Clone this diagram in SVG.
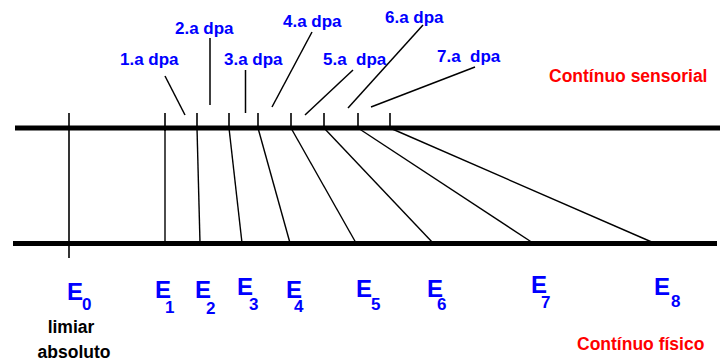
<svg xmlns="http://www.w3.org/2000/svg" width="722" height="364" viewBox="0 0 722 364">
<style>
.axis{stroke:#000;stroke-width:5;fill:none}
.tick{stroke:#000;stroke-width:1.6;fill:none}
.map{stroke:#000;stroke-width:1.4;fill:none}
.ptr{stroke:#000;stroke-width:1.5;fill:none}
.dpa{font-family:"Liberation Sans",Arial,sans-serif;font-weight:bold;font-size:17px;fill:#0000ff;white-space:pre}
.E{font-family:"Liberation Sans",Arial,sans-serif;font-weight:bold;font-size:24px;fill:#0000ff}
.sub{font-size:17px}
.red{font-family:"Liberation Sans",Arial,sans-serif;font-weight:bold;font-size:17.5px;fill:#ff0000}
.blk{font-family:"Liberation Sans",Arial,sans-serif;font-weight:bold;font-size:17.5px;fill:#000;text-anchor:middle}
</style>
<rect width="722" height="364" fill="#fff"/>
<g id="axes">
<line class="axis" x1="15" y1="128" x2="720" y2="128"/>
<line class="axis" x1="13" y1="243.5" x2="717" y2="243.5"/>
</g>
<g id="connectors">
<line class="tick" x1="69" y1="113" x2="69" y2="258"/>
<line class="tick" x1="165" y1="113" x2="165" y2="131"/>
<line class="tick" x1="197" y1="113" x2="197" y2="129"/>
<line class="tick" x1="229" y1="113" x2="229" y2="129"/>
<line class="tick" x1="258" y1="113" x2="258" y2="129"/>
<line class="tick" x1="291" y1="113" x2="291" y2="129"/>
<line class="tick" x1="324" y1="113" x2="324" y2="129"/>
<line class="tick" x1="358" y1="113" x2="358" y2="129"/>
<line class="tick" x1="390" y1="113" x2="390" y2="129"/>
<line class="map" x1="165" y1="128" x2="165" y2="243"/>
<line class="map" x1="197" y1="128" x2="200" y2="243"/>
<line class="map" x1="229" y1="128" x2="242" y2="243"/>
<line class="map" x1="258" y1="128" x2="290" y2="243"/>
<line class="map" x1="291" y1="128" x2="356" y2="243"/>
<line class="map" x1="324" y1="128" x2="433" y2="243"/>
<line class="map" x1="358" y1="128" x2="533" y2="243"/>
<line class="map" x1="390" y1="128" x2="654" y2="243"/>
<line class="ptr" x1="165" y1="76" x2="185" y2="115"/>
<line class="ptr" x1="210" y1="38" x2="210" y2="105"/>
<line class="ptr" x1="245.5" y1="70" x2="245.5" y2="113"/>
<line class="ptr" x1="312" y1="32" x2="272" y2="107"/>
<line class="ptr" x1="353" y1="70" x2="305" y2="115"/>
<line class="ptr" x1="423" y1="25" x2="348" y2="108"/>
<line class="ptr" x1="475" y1="67" x2="371" y2="107"/>
</g>
<g id="label-dpa1"><text class="dpa" x="120" y="65">1.a dpa</text></g>
<g id="label-dpa2"><text class="dpa" x="175" y="34">2.a dpa</text></g>
<g id="label-dpa3"><text class="dpa" x="224" y="65">3.a dpa</text></g>
<g id="label-dpa4"><text class="dpa" x="283" y="27">4.a dpa</text></g>
<g id="label-dpa5"><text class="dpa" x="323" y="65" xml:space="preserve">5.a  dpa</text></g>
<g id="label-dpa6"><text class="dpa" x="385" y="23">6.a dpa</text></g>
<g id="label-dpa7"><text class="dpa" x="437" y="62" xml:space="preserve">7.a  dpa</text></g>
<g id="label-sensorial"><text class="red" x="549" y="82">Contínuo sensorial</text></g>
<g id="label-fisico"><text class="red" x="577" y="350">Contínuo físico</text></g>
<g id="E0"><text class="E" x="67" y="300">E<tspan class="sub" dx="-1" dy="10">0</tspan></text>
<text class="blk" x="71" y="333">limiar</text><text class="blk" x="74" y="358">absoluto</text></g>
<g id="E1"><text class="E" x="155" y="298">E<tspan class="sub" dx="-6" dy="15">1</tspan></text></g>
<g id="E2"><text class="E" x="195" y="298">E<tspan class="sub" dx="-5" dy="16">2</tspan></text></g>
<g id="E3"><text class="E" x="237" y="295">E<tspan class="sub" dx="-4" dy="15">3</tspan></text></g>
<g id="E4"><text class="E" x="286" y="298">E<tspan class="sub" dx="-8" dy="14">4</tspan></text></g>
<g id="E5"><text class="E" x="356" y="297">E<tspan class="sub" dx="-1" dy="13">5</tspan></text></g>
<g id="E6"><text class="E" x="427" y="297">E<tspan class="sub" dx="-6" dy="13">6</tspan></text></g>
<g id="E7"><text class="E" x="531" y="293">E<tspan class="sub" dx="-6" dy="15">7</tspan></text></g>
<g id="E8"><text class="E" x="654" y="295">E<tspan class="sub" dx="1" dy="12">8</tspan></text></g>
</svg>
